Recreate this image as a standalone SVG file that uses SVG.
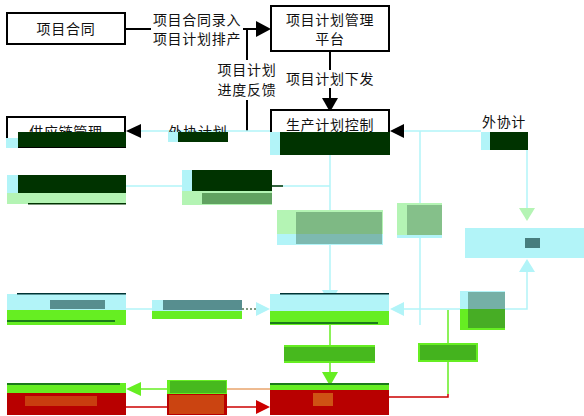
<svg xmlns="http://www.w3.org/2000/svg" width="584" height="416" viewBox="0 0 584 416">
<defs>
<style>
.t{font-family:"Noto Sans CJK SC","Liberation Sans",sans-serif;font-size:14px;fill:#111;letter-spacing:0.7px}
.bx{fill:#fff;stroke:#000;stroke-width:2}
.cy{fill:#b2f4f8}
.dk{fill:#003300}
.lg{fill:#b4f4b4}
.bg{fill:#66ee22}
.rd{fill:#b80000}
.ln{fill:none;stroke:#000;stroke-width:2}
.lc{fill:none;stroke:#b2f4f8;stroke-width:1.5}
.lgr{fill:none;stroke:#66ee22;stroke-width:1.5}
.lr{fill:none;stroke:#cc0000;stroke-width:1.5}
</style>
<marker id="ab" viewBox="0 0 10 10" refX="10" refY="5" markerWidth="7" markerHeight="7" orient="auto" markerUnits="userSpaceOnUse"><path d="M0,0L10,5L0,10z" fill="#000"/></marker>
</defs>
<rect width="584" height="416" fill="#fff"/>

<g id="connectors">
<!-- top -->
<path class="ln" d="M125,29H256"/>
<path d="M256,21L271,29L256,37z" fill="#000"/>
<path class="ln" d="M247,29V131"/>
<path class="ln" d="M330,51V98"/>
<path d="M322,98L330,112L338,98z" fill="#000"/>
<!-- horizontal cyan at row 2 -->
<path class="lc" d="M141,131H271"/>
<path d="M141,124L126,131L141,138z" fill="#000"/>
<path class="lc" d="M404,131H481"/>
<path d="M404,124L390,131L404,138z" fill="#000"/>
<path class="lc" d="M420,131V325"/>
<path class="lc" d="M527,150V208"/>
<path d="M519,208L527,221L535,208z" fill="#b4f4b4"/>
<!-- row 3 -->
<path class="lc" d="M125,186H182"/>
<path class="lc" d="M271,186H330"/>
<path d="M271,186H283" stroke="#003300" stroke-width="1.5"/>
<path class="lc" d="M330,155V290"/>
<path d="M322,290L330,304L338,290z" fill="#b2f4f8"/>
<!-- row 4 -->
<path class="lc" d="M125,309H152"/>
<path d="M242,309H256" stroke="#003300" stroke-width="1" stroke-dasharray="2,2"/>
<path d="M256,302L270,309L256,316z" fill="#b2f4f8"/>
<path class="lc" d="M404,309H460"/>
<path d="M404,302L390,309L404,316z" fill="#b2f4f8"/>
<path class="lc" d="M505,309H527V272"/>
<path d="M519,272L527,259L535,272z" fill="#b2f4f8"/>
<path class="lgr" d="M448,310V394"/>
<path class="lr" d="M448,394V397H389"/>
<path class="lgr" d="M330,325V372"/>
<path d="M322,372L330,386L338,372z" fill="#66ee22"/>
<!-- row 5 -->
<path class="lgr" d="M141,389H167"/>
<path d="M141,382L126,389L141,396z" fill="#66ee22"/>
<path d="M227,389H270" stroke="#dd7722" stroke-width="1"/>
<path class="lr" d="M125,407H167"/>
<path class="lr" d="M227,407H256"/>
<path d="M256,400L270,407L256,414z" fill="#cc0000"/>
</g>

<g id="n1">
<rect class="bx" x="7" y="13" width="118" height="31"/>
<text class="t" x="66" y="34" text-anchor="middle">项目合同</text>
</g>
<g id="l1">
<rect x="151" y="10" width="92" height="38" fill="#fff"/>
<text class="t" x="197" y="25" text-anchor="middle">项目合同录入</text>
<text class="t" x="197" y="44" text-anchor="middle">项目计划排产</text>
</g>
<g id="n2">
<rect class="bx" x="271" y="6" width="118" height="45"/>
<text class="t" x="330" y="25" text-anchor="middle">项目计划管理</text>
<text class="t" x="330" y="44" text-anchor="middle">平台</text>
</g>
<g id="l2">
<rect x="216" y="60" width="62" height="40" fill="#fff"/>
<text class="t" x="247" y="75" text-anchor="middle">项目计划</text>
<text class="t" x="247" y="95" text-anchor="middle">进度反馈</text>
</g>
<g id="l3">
<rect x="283" y="70" width="94" height="18" fill="#fff"/>
<text class="t" x="330" y="84" text-anchor="middle">项目计划下发</text>
</g>
<g id="n3">
<rect class="bx" x="271" y="110" width="118" height="44"/>
<text class="t" x="330" y="130" text-anchor="middle">生产计划控制</text>
<rect class="cy" x="270" y="132" width="10" height="23"/>
<rect class="dk" x="280" y="132" width="110" height="23"/>
</g>
<g id="n4">
<rect class="bx" x="7" y="117" width="118" height="30"/>
<text class="t" x="66" y="137" text-anchor="middle">供应链管理</text>
<rect class="cy" x="6" y="138" width="12" height="10"/>
<rect class="dk" x="18" y="132" width="108" height="15"/>
</g>
<g id="l4">
<text class="t" x="198" y="137" text-anchor="middle">外协计划</text>
<rect class="cy" x="168" y="132" width="10" height="10"/>
<rect class="dk" x="178" y="132" width="50" height="10"/>
</g>
<g id="l5">
<text class="t" x="504" y="127" text-anchor="middle">外协计</text>
<rect class="cy" x="481" y="132" width="9" height="18"/>
<rect class="dk" x="490" y="132" width="38" height="18"/>
</g>
<g id="n5">
<rect class="cy" x="7" y="175" width="11" height="18"/>
<rect class="dk" x="18" y="175" width="108" height="18"/>
<rect class="lg" x="7" y="193" width="119" height="11"/>
<rect x="28" y="203" width="98" height="1.5" fill="#003300"/>
</g>
<g id="n6">
<rect class="cy" x="182" y="170" width="10" height="21"/>
<rect class="dk" x="192" y="170" width="80" height="21"/>
<rect class="lg" x="182" y="191" width="90" height="14"/>
<rect x="202" y="193" width="70" height="11" fill="#2a6a2a" opacity="0.6"/>
</g>
<g id="n7">
<rect class="lg" x="277" y="210" width="106" height="24"/>
<rect class="cy" x="277" y="234" width="106" height="11"/>
<rect x="296" y="212" width="86" height="32" fill="#1a4a2a" opacity="0.35"/>
</g>
<g id="n8">
<rect class="lg" x="397" y="203" width="45" height="32"/>
<rect class="cy" x="397" y="235" width="45" height="3"/>
<rect x="407" y="205" width="35" height="30" fill="#1a4a2a" opacity="0.3"/>
</g>
<g id="n9">
<rect class="cy" x="465" y="228" width="119" height="30"/>
<rect x="525" y="238" width="15" height="10" fill="#1a4a4a" opacity="0.7"/>
</g>
<g id="n10">
<rect class="cy" x="7" y="294" width="119" height="16"/>
<rect class="bg" x="7" y="310" width="119" height="15"/>
<rect x="7" y="320" width="108" height="2" fill="#1a7a1a"/>
<rect x="17" y="293" width="109" height="1.5" fill="#003333"/>
<rect x="50" y="300" width="55" height="9" fill="#1a4a4a" opacity="0.6"/>
</g>
<g id="n11">
<rect class="cy" x="152" y="300" width="90" height="11"/>
<rect class="bg" x="152" y="311" width="90" height="8"/>
<rect x="163" y="300" width="79" height="10" fill="#1a4a4a" opacity="0.6"/>
</g>
<g id="n12">
<rect class="cy" x="270" y="294" width="119" height="17"/>
<rect class="bg" x="270" y="311" width="119" height="14"/>
<rect x="280" y="293" width="109" height="1.5" fill="#003333"/>
<rect x="270" y="322" width="108" height="2" fill="#1a7a1a"/>
</g>
<g id="n13">
<rect class="cy" x="460" y="291" width="45" height="18"/>
<rect class="bg" x="460" y="309" width="45" height="21"/>
<rect x="468" y="292" width="37" height="36" fill="#1a4a2a" opacity="0.4"/>
</g>
<g id="n14">
<rect class="bg" x="284" y="345" width="91" height="18"/>
<rect x="284" y="347" width="91" height="14" fill="#1a6a1a" opacity="0.4"/>
</g>
<g id="n15">
<rect class="bg" x="418" y="343" width="60" height="19"/>
<rect x="420" y="345" width="56" height="15" fill="#1a6a1a" opacity="0.45"/>
</g>
<g id="n16">
<rect class="bg" x="7" y="383" width="119" height="10"/>
<rect x="7" y="383" width="113" height="2" fill="#1a7a1a"/>
<rect class="rd" x="7" y="393" width="119" height="22"/>
<rect x="25" y="396" width="72" height="10" fill="#dd8822" opacity="0.45"/>
</g>
<g id="n17">
<rect class="bg" x="167" y="380" width="60" height="14"/>
<rect x="170" y="381" width="56" height="12" fill="#1a6a1a" opacity="0.4"/>
<rect class="rd" x="167" y="394" width="60" height="21"/>
<rect x="169" y="395" width="55" height="19" fill="#dd8822" opacity="0.5"/>
</g>
<g id="n18">
<rect class="bg" x="270" y="383" width="119" height="7"/>
<rect x="270" y="383" width="119" height="2" fill="#1a7a1a"/>
<rect class="rd" x="270" y="390" width="119" height="25"/>
<rect x="313" y="393" width="20" height="13" fill="#dd8822" opacity="0.6"/>
</g>
</svg>
